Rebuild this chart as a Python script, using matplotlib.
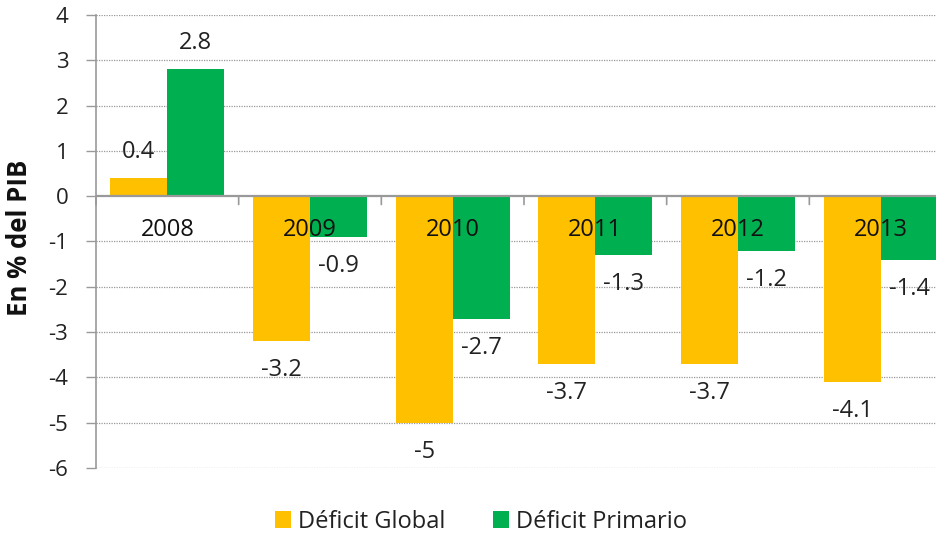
import matplotlib
matplotlib.use("Agg")
import matplotlib.pyplot as plt
import numpy as np

years = ["2008", "2009", "2010", "2011", "2012", "2013"]
deficit_global = [0.4, -3.2, -5.0, -3.7, -3.7, -4.1]
deficit_primario = [2.8, -0.9, -2.7, -1.3, -1.2, -1.4]
global_labels = ["0.4", "-3.2", "-5", "-3.7", "-3.7", "-4.1"]
primario_labels = ["2.8", "-0.9", "-2.7", "-1.3", "-1.2", "-1.4"]
yticks = [4, 3, 2, 1, 0, -1, -2, -3, -4, -5, -6]

plt.rcParams['font.family'] = ['Open Sans', 'DejaVu Sans']

W, H = 937, 541
fig = plt.figure(figsize=(W / 100, H / 100), dpi=100)
left, right = 96, 952
top, bottom = 15, 468
ax = fig.add_axes([left / W, 1 - bottom / H, (right - left) / W, (bottom - top) / H])

x = np.arange(len(years))
bw = 0.4
c_glob = "#FFC000"
c_prim = "#00B050"
ax.bar(x - bw / 2, deficit_global, bw, color=c_glob, label="Déficit Global", zorder=2)
ax.bar(x + bw / 2, deficit_primario, bw, color=c_prim, label="Déficit Primario", zorder=2)

ax.set_xlim(-0.5, len(years) - 0.5)
ax.set_ylim(-6, 4)
ax.set_yticks(yticks)
ax.set_yticklabels([str(v) for v in yticks], fontsize=16, color="#222222")
ax.tick_params(axis="y", length=7, width=1, color="#999999", pad=13)

# grid
for v in yticks:
    if v != 0:
        ax.axhline(v, color="#999999", lw=0.9, ls=(0, (1, 1)), zorder=0)

for s in ["top", "right", "bottom"]:
    ax.spines[s].set_visible(False)
ax.spines["left"].set_color("#999999")
ax.spines["left"].set_linewidth(1.2)
ax.axhline(0, color="#999999", lw=1.6, zorder=3)

# category boundary ticks on zero line
ax.set_xticks([])
for b in np.arange(-0.5, len(years) + 0.5, 1.0):
    ax.annotate("", xy=(b, 0), xytext=(0, -6), textcoords="offset points",
                xycoords="data",
                arrowprops=dict(arrowstyle="-", color="#999999", lw=1.2,
                                shrinkA=0, shrinkB=0), zorder=3)

# category labels
for i, yr in enumerate(years):
    ax.annotate(yr, xy=(i, 0), xytext=(0, -24.5), textcoords="offset points",
                ha="center", va="center", fontsize=17, color="#111111", zorder=5)

# data labels
def lab(xs, vals, labels):
    for xi, v, t in zip(xs, vals, labels):
        off = 19 if v > 0 else -21
        ax.annotate(t, xy=(xi, v), xytext=(0, off), textcoords="offset points",
                    ha="center", va="center", fontsize=17, color="#222222", zorder=5)

lab(x - bw / 2, deficit_global, global_labels)
lab(x + bw / 2, deficit_primario, primario_labels)

fig.text(20 / W, 1 - 238 / H, "En % del PIB", rotation=90, ha="center", va="center",
         fontsize=18.5, fontweight="bold", color="#111111")

fig.legend(loc="center", bbox_to_anchor=(481 / W, 1 - 522 / H), ncol=2, frameon=False,
           fontsize=17, handlelength=0.7, handleheight=0.7, handletextpad=0.3,
           columnspacing=2.0, labelcolor="#222222")

fig.savefig("out.png", dpi=100)
